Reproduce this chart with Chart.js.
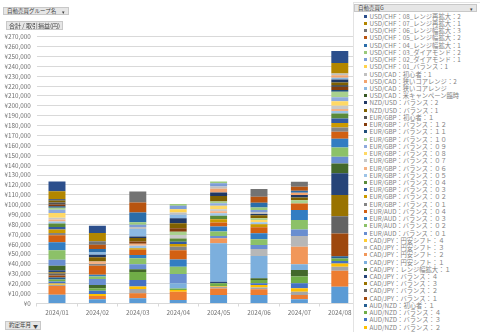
<!DOCTYPE html>
<html><head><meta charset="utf-8">
<script src="https://cdn.jsdelivr.net/npm/chart.js@4.4.0/dist/chart.umd.min.js"></script>
<style>
html,body{margin:0;padding:0;background:#fff;}
#wrap{position:relative;width:480px;height:336px;overflow:hidden;font-family:"Noto Sans CJK JP","Noto Sans",sans-serif;}
canvas{position:absolute;left:0;top:0;}
.btn{position:absolute;background:#E6E6E6;border:1px solid #C8C8C8;box-sizing:border-box;color:#404040;white-space:nowrap;line-height:1;}
#legend{position:absolute;left:353px;top:2px;width:127px;height:330px;background:#fff;border-left:1px solid #E3E3E3;border-top:1px solid #E3E3E3;box-sizing:border-box;overflow:hidden;}
.li{position:absolute;left:8.5px;height:7.23px;font-size:6.3px;line-height:7.23px;color:#7F7F7F;white-space:nowrap;}
.li i{position:absolute;left:1.5px;top:2px;width:3px;height:3px;}
.li span{position:absolute;left:7px;top:0;}
</style></head>
<body><div id="wrap">
<canvas id="c" width="480" height="336"></canvas>
<div class="btn" style="left:3px;top:7px;width:66px;height:8px;font-size:5.5px;padding:1px 0 0 3px;">自動売買グループ名<span style="position:absolute;right:3px;top:1px;font-size:5px;">▾</span></div>
<div class="btn" style="left:6px;top:20.5px;width:57px;height:9.5px;font-size:6px;padding:1.6px 0 0 2px;">合計 / 取引損益(円)</div>
<div class="btn" style="left:5px;top:321px;width:36px;height:8.5px;font-size:5.5px;padding:1.3px 0 0 3px;">約定年月<span style="position:absolute;right:2px;top:1px;font-size:5px;">▼</span></div>
<div id="legend">
<div class="btn" style="left:0px;top:1px;width:123px;height:8px;font-size:5.5px;padding:1px 0 0 3px;">自動売買G<span style="position:absolute;right:3px;top:1px;font-size:5px;">▾</span></div>
</div>
</div>
<script>
const months = ["2024/01","2024/02","2024/03","2024/04","2024/05","2024/06","2024/07","2024/08"];

const seriesNames = [
 "AUD/JPY：バランス：１","AUD/JPY：バランス：２","AUD/NZD：バランス：１","AUD/NZD：バランス：２",
 "AUD/NZD：バランス：３","AUD/NZD：バランス：４","AUD/NZD：初心者：１","CAD/JPY：バランス：１",
 "CAD/JPY：バランス：２","CAD/JPY：バランス：３","CAD/JPY：バランス：４","CAD/JPY：レンジ幅拡大：１",
 "CAD/JPY：円安シフト：１","CAD/JPY：円安シフト：２","CAD/JPY：円安シフト：３","CAD/JPY：円安シフト：４",
 "EUR/AUD：バランス：０１","EUR/AUD：バランス：０２","EUR/AUD：バランス：０３","EUR/AUD：バランス：０４",
 "EUR/GBP：バランス：０１","EUR/GBP：バランス：０２","EUR/GBP：バランス：０３","EUR/GBP：バランス：０４",
 "EUR/GBP：バランス：０５","EUR/GBP：バランス：０６","EUR/GBP：バランス：０７","EUR/GBP：バランス：０８",
 "EUR/GBP：バランス：０９","EUR/GBP：バランス：１０","EUR/GBP：バランス：１１","EUR/GBP：バランス：１２",
 "EUR/GBP：初心者：１","NZD/USD：バランス：1","NZD/USD：バランス：2","USD/CAD：米キャンペーン臨時",
 "USD/CAD：狭いコアレンジ","USD/CAD：狭いコアレンジ：2","USD/CAD：初心者：1","USD/CHF：01_バランス：1",
 "USD/CHF：02_ダイアモンド：1","USD/CHF：03_ダイアモンド：2","USD/CHF：04_レンジ幅拡大：1","USD/CHF：05_レンジ幅拡大：2",
 "USD/CHF：06_レンジ幅拡大：3","USD/CHF：07_レンジ再拡大：1","USD/CHF：08_レンジ再拡大：2"
];

// one row per series, one value per month (円)
const seriesValues = [
 [8900, 4200, 5200, 3500, 8600, 8600, 4200, 17000],
 [8800, 3400, 5100, 8400, 6700, 5700, 4400, 16200],
 [1300, 0, 4400, 0, 1700, 2000, 3400, 4000],
 [1300, 2000, 2400, 1700, 700, 2400, 3400, 3400],
 [2000, 3400, 6700, 0, 0, 1700, 5100, 2300],
 [2000, 2400, 8100, 1700, 2700, 3400, 6700, 2700],
 [2000, 0, 0, 0, 0, 0, 0, 2300],
 [2000, 0, 0, 0, 0, 0, 0, 23000],
 [2000, 0, 0, 0, 0, 0, 0, 17500],
 [1300, 0, 0, 0, 0, 0, 0, 21300],
 [2000, 0, 0, 0, 1700, 0, 0, 22000],
 [4700, 3400, 2700, 0, 0, 1700, 6700, 10100],
 [0, 0, 0, 5100, 38800, 22600, 5700, 0],
 [0, 0, 0, 0, 5100, 0, 17900, 0],
 [0, 0, 0, 0, 0, 7100, 10800, 0],
 [0, 0, 0, 0, 0, 0, 0, 0],
 [6100, 6100, 5100, 9400, 2400, 4000, 6700, 6700],
 [9400, 2400, 6100, 7400, 4400, 5700, 9400, 9400],
 [8100, 1700, 3400, 7400, 5100, 6100, 10100, 8800],
 [7100, 9100, 5100, 9400, 4000, 6100, 6700, 7100],
 [2400, 2000, 0, 3400, 0, 0, 0, 4400],
 [3400, 0, 1700, 2700, 3400, 3000, 0, 4400],
 [2700, 0, 0, 2400, 0, 0, 0, 4700],
 [3400, 0, 0, 3400, 3400, 0, 0, 5100],
 [2000, 0, 2400, 0, 2700, 2000, 0, 2400],
 [2000, 2400, 2000, 0, 2000, 0, 0, 2000],
 [2000, 0, 0, 3400, 2000, 0, 0, 3400],
 [4700, 0, 0, 0, 3400, 2400, 0, 4400],
 [3400, 0, 0, 0, 2700, 0, 0, 4000],
 [2000, 0, 0, 3400, 1700, 1700, 3400, 5700],
 [1300, 0, 0, 0, 0, 0, 0, 1700],
 [2000, 0, 2400, 3400, 0, 0, 0, 3000],
 [2000, 0, 0, 0, 0, 0, 0, 2000],
 [2000, 4400, 3400, 5100, 5700, 3000, 2700, 2700],
 [1300, 2400, 1700, 5100, 3400, 1300, 2400, 3000],
 [0, 0, 0, 0, 0, 0, 0, 0],
 [0, 2400, 7400, 3400, 0, 0, 0, 1700],
 [0, 0, 0, 0, 3700, 0, 2400, 2700],
 [0, 0, 2000, 2400, 2400, 2000, 0, 1700],
 [0, 0, 0, 3400, 0, 0, 0, 0],
 [0, 0, 2400, 3400, 3400, 2000, 0, 0],
 [0, 0, 2400, 1700, 1700, 2700, 0, 0],
 [0, 3400, 10100, 0, 0, 4700, 2000, 0],
 [0, 4400, 10100, 0, 0, 6100, 4000, 0],
 [0, 3400, 11100, 0, 0, 7800, 5100, 0],
 [8100, 8400, 0, 0, 0, 0, 0, 10700],
 [9800, 7400, 0, 0, 0, 0, 0, 12100]
];

const palette = [
 "#5B9BD5","#ED7D31","#A5A5A5","#FFC000","#4472C4","#70AD47",
 "#255E91","#9E480E","#636363","#997300","#264478","#43682B",
 "#7CAFDD","#F1975A","#B7B7B7","#FFCD33","#698ED0","#8CC168",
 "#327DC2","#D26012","#848484","#CC9A00","#335AA1","#5A8A39",
 "#9DC3E6","#F4B183","#C9C9C9","#FFD966","#8FAADC","#A9D18E",
 "#1F4E79","#843C0C","#525252","#7F6000","#203864","#385723",
 "#8CB9E2","#F2A46F","#C0C0C0","#FFD34D","#7C9CD6","#9AC97B",
 "#2B6DA9","#B85410","#737373","#B28600","#2C4F8C"
];

const yMax = 270000, yStep = 10000;
const FONT = '"Noto Sans CJK JP","Noto Sans",sans-serif';

const datasets = seriesNames.map((name, i) => ({
  label: name,
  data: seriesValues[i],
  backgroundColor: palette[i],
  borderWidth: 0,
  barPercentage: 0.42,
  categoryPercentage: 1.0,
  stack: "s"
}));

new Chart(document.getElementById("c"), {
  type: "bar",
  data: { labels: months, datasets },
  options: {
    responsive: false,
    animation: false,
    layout: { padding: { left: 0, right: 120, top: 36.7, bottom: 0 } },
    plugins: { legend: { display: false }, tooltip: { enabled: false } },
    scales: {
      x: {
        stacked: true,
        grid: { offset: true, drawOnChartArea: false, drawTicks: true, tickLength: 3, color: "#D9D9D9" },
        border: { display: true, color: "#D9D9D9" },
        ticks: { font: { size: 6.3, family: FONT }, color: "#707070", padding: 2, maxRotation: 0, autoSkip: false },
        afterFit(s) { s.height = 32.5; }
      },
      y: {
        stacked: true, min: 0, max: yMax,
        ticks: { stepSize: yStep, autoSkip: false, font: { size: 6.3, family: FONT }, color: "#707070", padding: 6,
                 callback: v => "¥" + Number(v).toLocaleString("en-US") },
        grid: { color: "#D9D9D9", drawTicks: false },
        border: { display: false },
        afterFit(s) { s.width = 36.8; }
      }
    }
  }
});

// legend panel (reverse order, like the spreadsheet's pivot chart legend)
const lg = document.getElementById("legend");
for (let k = 0; k < seriesNames.length; k++) {
  const i = seriesNames.length - 1 - k;
  const d = document.createElement("div");
  d.className = "li";
  d.style.top = (9.7 + k * 7.23) + "px";
  d.innerHTML = '<i style="background:' + palette[i] + '"></i><span></span>';
  d.querySelector("span").textContent = seriesNames[i];
  lg.appendChild(d);
}
</script>
</body></html>
